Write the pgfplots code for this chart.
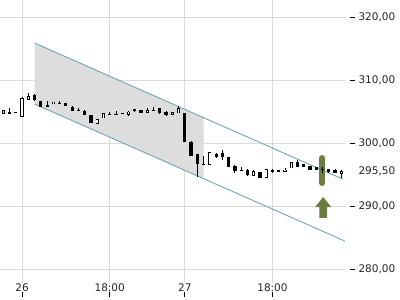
\documentclass[border=0pt]{standalone}
\usepackage{fontspec}
\setmainfont{DejaVu Sans}
\usepackage{pgfplots}
\usepackage{pgfplotstable}
\pgfplotsset{compat=1.18}
\definecolor{shade}{RGB}{221,221,221}
\definecolor{chan}{RGB}{110,168,174}
\definecolor{gridc}{RGB}{218,218,218}
\definecolor{sig}{RGB}{108,124,62}

% up candles (white): index open high low close
\pgfplotstableread{
i o h l c
0 304.68 305.16 304.68 305.16
3 304.13 307.30 304.13 307.14
4 306.90 307.94 306.90 307.46
8 306.14 306.56 306.14 306.56
15 303.06 303.81 303.06 303.81
16 303.92 304.71 303.92 304.71
20 304.49 305.13 304.29 304.97
23 304.76 305.51 304.76 305.24
27 304.40 304.87 304.40 304.87
28 304.71 305.87 304.71 305.48
33 296.51 298.52 296.51 298.52
40 294.84 295.71 294.76 295.48
42 294.40 295.87 294.40 295.87
45 295.44 295.98 295.44 295.79
46 295.98 296.98 295.98 296.98
51 295.71 296.14 295.29 295.87
54 295.16 295.71 294.40 295.56
}\upcandles

% down candles (black): index open high low close
\pgfplotstableread{
i o h l c
1 304.92 305.56 304.68 304.68
2 304.92 304.92 304.79 304.79
5 307.62 307.73 306.71 306.75
6 306.67 306.71 305.76 305.79
7 306.03 306.71 305.76 305.79
9 306.38 306.71 306.22 306.22
10 306.30 306.30 305.92 305.92
11 305.76 305.87 305.08 305.13
12 305.24 305.51 305.11 305.11
13 305.08 305.24 304.49 304.49
14 304.40 304.44 303.22 303.22
17 304.67 304.97 304.56 304.56
18 304.56 305.08 304.40 304.40
19 304.81 304.81 304.56 304.56
21 305.32 305.35 304.87 305.11
22 305.21 305.24 304.71 304.71
24 305.27 305.67 305.13 305.13
25 305.56 305.61 304.56 304.76
26 304.87 305.03 304.29 304.44
29 304.71 304.71 300.21 300.21
30 300.21 300.24 297.94 297.98
31 298.25 298.25 294.68 296.67
32 296.67 297.94 296.51 296.51
34 298.33 298.37 297.57 297.78
35 298.49 298.89 297.30 297.70
36 297.83 297.83 296.24 296.27
37 296.35 296.51 295.29 295.56
38 295.71 296.24 295.56 295.56
39 295.71 295.87 294.76 294.92
41 295.35 295.44 294.49 294.49
43 295.71 295.87 295.29 295.40
44 295.71 295.71 295.43 295.43
47 296.98 297.30 296.14 296.19
48 296.67 296.67 296.14 296.14
49 296.35 296.35 295.71 295.79
50 296.22 296.22 295.71 295.71
52 295.90 295.92 295.29 295.32
53 295.79 295.83 295.19 295.24
}\downcandles

\begin{document}
\begin{tikzpicture}
\useasboundingbox (0,0) rectangle (400pt,-300pt);
\begin{axis}[at={(0pt,0pt)}, anchor=north west, scale only axis,
  width=345pt, height=283pt,
  xmin=-0.527, xmax=54.585, ymin=277.78, ymax=322.698,
  axis line style={draw=none}, tick style={draw=none},
  xtick={3,17,29,43}, xticklabels={26,18:00,27,18:00},
  ytick={280,290,300,310,320},
  yticklabels={280{,}00,290{,}00,300{,}00,310{,}00,320{,}00},
  extra y ticks={295.5}, extra y tick labels={295{,}50},
  extra y tick style={grid=none},
  xtick pos=left, ytick pos=right, yticklabel pos=right,
  grid=major, grid style={draw=gridc, line width=0.8pt},
  tick label style={font=\fontsize{10.5}{12}\selectfont, text=black!85},
  xticklabel style={yshift=3pt},
  yticklabel style={anchor=west, xshift=10pt},
]
% shaded channel section
\addplot[fill=shade, draw=none, forget plot] coordinates {(5,315.87) (32,304.02) (32,294.34) (5,306.19)} --cycle;
% channel lines
\addplot[chan, line width=0.9pt, forget plot] coordinates {(5,315.87) (54.3,294.24)};
\addplot[chan, line width=0.9pt, forget plot] coordinates {(5,306.19) (54.585,284.43)};
% signal marker
\addplot[draw=sig, line width=6pt, line cap=round, forget plot] coordinates {(50.95,297.62) (50.95,293.65)};
\addplot[fill=sig, draw=none, forget plot] coordinates {(51.1,291.43) (52.38,289.84) (51.72,289.84) (51.72,288.10) (50.48,288.10) (50.48,289.84) (49.82,289.84)} --cycle;
% wicks
\addplot[draw=none, mark=none, forget plot,
  error bars/.cd, y dir=minus, y explicit, error mark=none,
  error bar style={draw=black, line width=0.9pt}]
  table[x=i, y=h, y error minus expr={\thisrow{h}-\thisrow{l}}] {\upcandles};
\addplot[draw=none, mark=none, forget plot,
  error bars/.cd, y dir=minus, y explicit, error mark=none,
  error bar style={draw=black, line width=0.9pt}]
  table[x=i, y=h, y error minus expr={\thisrow{h}-\thisrow{l}}] {\downcandles};
% black bodies
\addplot[draw=none, mark=none, forget plot,
  error bars/.cd, y dir=minus, y explicit, error mark=none,
  error bar style={draw=black, line width=3.2pt}]
  table[x=i, y=o, y error minus expr={\thisrow{o}-\thisrow{c}}] {\downcandles};
% white bodies: outline then interior
\addplot[draw=none, mark=none, forget plot,
  error bars/.cd, y dir=minus, y explicit, error mark=none,
  error bar style={draw=black, line width=3.2pt}]
  table[x=i, y=c, y error minus expr={\thisrow{c}-\thisrow{o}}] {\upcandles};
\addplot[draw=none, mark=none, forget plot,
  error bars/.cd, y dir=minus, y explicit, error mark=none,
  error bar style={draw=white, line width=1.5pt}]
  table[x=i, y expr={\thisrow{c}-0.127}, y error minus expr={max(\thisrow{c}-\thisrow{o}-0.254,0)}] {\upcandles};
\end{axis}
\begin{axis}[at={(0pt,0pt)}, anchor=north west, scale only axis,
  width=350pt, height=296.5pt,
  xmin=-0.527, xmax=55.383, ymin=275.635, ymax=322.698,
  axis line style={draw=none},
  xtick={3,17,29,43}, ytick={280,290,300,310,320},
  xticklabels={}, yticklabels={},
  xtick pos=left, ytick pos=right,
  xtick align=inside, ytick align=outside,
  major tick length=5pt, tick style={draw=black, line width=0.8pt},
]
\end{axis}
\end{tikzpicture}
\end{document}
